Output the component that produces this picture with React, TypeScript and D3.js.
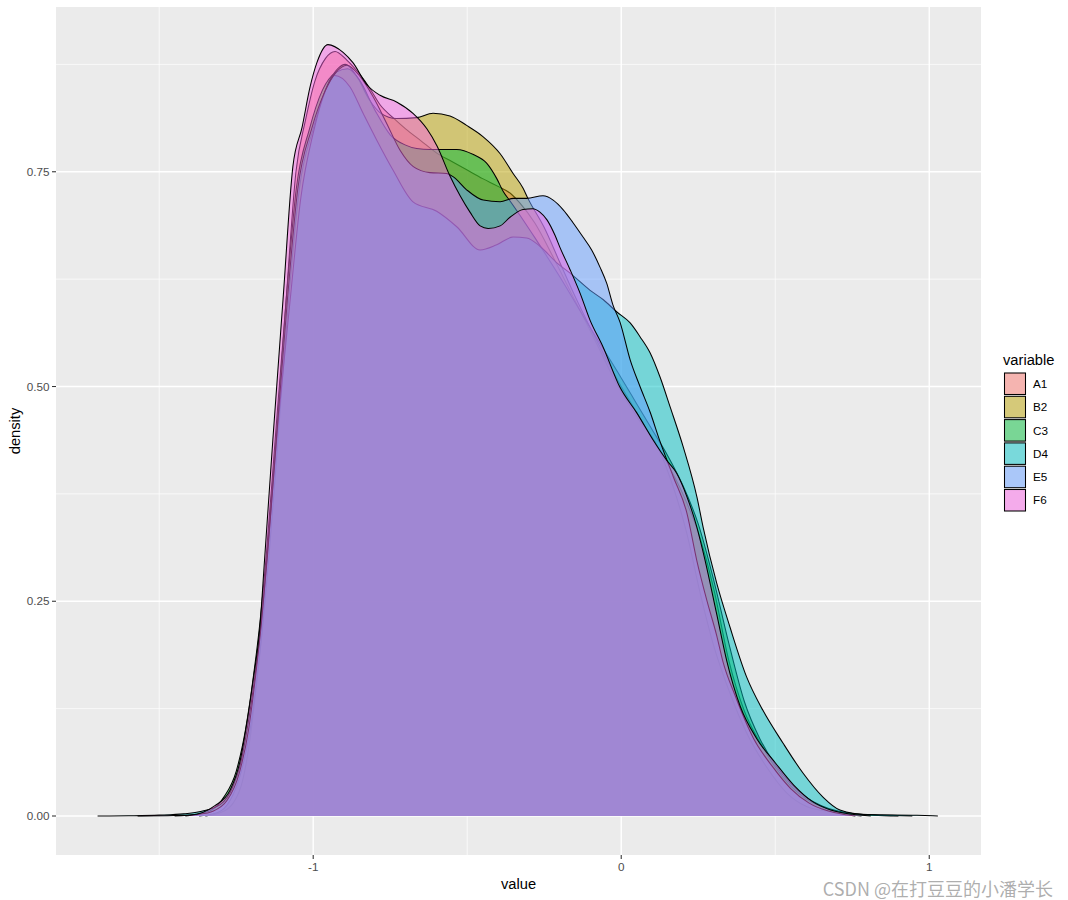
import React from "react";
import * as d3 from "d3";

type P = [number, number];

const categories = ["A1", "B2", "C3", "D4", "E5", "F6"];
const fills = ["#F8766D", "#B79F00", "#00BA38", "#00BFC4", "#619CFF", "#F564E3"];
const xTicks = [-1, 0, 1];
const xTickLabels = ["-1", "0", "1"];
const xMinor = [-1.5, -0.5, 0.5];
const yTicks = [0, 0.25, 0.5, 0.75];
const yTickLabels = ["0.00", "0.25", "0.50", "0.75"];
const yMinor = [0.125, 0.375, 0.625, 0.875];

const A1: P[] = [
  [-1.35, 0], [-1.3, 0.004], [-1.26, 0.015], [-1.23, 0.04], [-1.205, 0.09], [-1.185, 0.15],
  [-1.165, 0.22], [-1.15, 0.3], [-1.12, 0.44], [-1.088, 0.6], [-1.056, 0.75], [-1.025, 0.81],
  [-0.995, 0.855], [-0.96, 0.882], [-0.929, 0.89], [-0.891, 0.88], [-0.848, 0.863], [-0.816, 0.847],
  [-0.783, 0.828], [-0.741, 0.813], [-0.7, 0.8], [-0.65, 0.786], [-0.6, 0.772], [-0.55, 0.762],
  [-0.5, 0.752], [-0.45, 0.742], [-0.4, 0.733], [-0.36, 0.725], [-0.33, 0.714], [-0.28, 0.69],
  [-0.22, 0.65], [-0.15, 0.6], [-0.08, 0.55], [-0.01, 0.5], [0.06, 0.46], [0.115, 0.432],
  [0.169, 0.383], [0.213, 0.329], [0.256, 0.26], [0.298, 0.201], [0.353, 0.143], [0.407, 0.097],
  [0.472, 0.057], [0.537, 0.027], [0.602, 0.011], [0.678, 0.005], [0.78, 0],
];

const B2: P[] = [
  [-1.37, 0], [-1.31, 0.004], [-1.27, 0.018], [-1.235, 0.05], [-1.205, 0.1], [-1.183, 0.16],
  [-1.163, 0.225], [-1.143, 0.305], [-1.113, 0.445], [-1.08, 0.6], [-1.045, 0.73], [-1.0, 0.8],
  [-0.955, 0.85], [-0.92, 0.87], [-0.896, 0.875], [-0.86, 0.862], [-0.82, 0.835], [-0.78, 0.818],
  [-0.73, 0.812], [-0.664, 0.813], [-0.611, 0.818], [-0.556, 0.815], [-0.502, 0.804], [-0.449, 0.791],
  [-0.393, 0.771], [-0.351, 0.748], [-0.319, 0.731], [-0.303, 0.719], [-0.25, 0.685], [-0.2, 0.645],
  [-0.15, 0.605], [-0.1, 0.568], [-0.05, 0.533], [0, 0.5], [0.05, 0.47], [0.1, 0.44], [0.15, 0.41],
  [0.2, 0.375], [0.25, 0.33], [0.3, 0.265], [0.35, 0.18], [0.4, 0.122], [0.45, 0.086], [0.5, 0.057],
  [0.55, 0.035], [0.6, 0.02], [0.65, 0.011], [0.7, 0.005], [0.75, 0.0025], [0.85, 0.001], [0.945, 0],
];

const C3: P[] = [
  [-1.45, 0], [-1.38, 0.002], [-1.33, 0.007], [-1.29, 0.022], [-1.25, 0.052], [-1.22, 0.1],
  [-1.195, 0.16], [-1.173, 0.225], [-1.152, 0.305], [-1.122, 0.445], [-1.088, 0.6], [-1.055, 0.73],
  [-1.012, 0.8], [-0.97, 0.845], [-0.925, 0.866], [-0.888, 0.87], [-0.85, 0.857], [-0.8, 0.822],
  [-0.75, 0.793], [-0.7, 0.781], [-0.664, 0.777], [-0.62, 0.776], [-0.588, 0.776], [-0.534, 0.776],
  [-0.48, 0.77], [-0.437, 0.76], [-0.404, 0.742], [-0.383, 0.727], [-0.361, 0.716], [-0.33, 0.7],
  [-0.28, 0.673], [-0.2, 0.628], [-0.1, 0.568], [0, 0.51], [0.05, 0.48], [0.1, 0.45], [0.15, 0.42],
  [0.2, 0.385], [0.25, 0.34], [0.3, 0.275], [0.35, 0.2], [0.4, 0.133], [0.45, 0.09], [0.5, 0.06],
  [0.55, 0.038], [0.6, 0.022], [0.65, 0.012], [0.7, 0.006], [0.75, 0.003], [0.82, 0.001], [0.9, 0],
];

const D4: P[] = [
  [-1.7, 0], [-1.6, 0.0003], [-1.5, 0.001], [-1.42, 0.0025], [-1.37, 0.005], [-1.303, 0.013],
  [-1.26, 0.035], [-1.238, 0.058], [-1.215, 0.1], [-1.192, 0.155], [-1.17, 0.22], [-1.15, 0.3],
  [-1.118, 0.44], [-1.075, 0.6], [-1.04, 0.72], [-1.0, 0.795], [-0.965, 0.84], [-0.93, 0.862],
  [-0.881, 0.849], [-0.838, 0.818], [-0.794, 0.787], [-0.741, 0.752], [-0.676, 0.715], [-0.599, 0.704],
  [-0.534, 0.686], [-0.458, 0.659], [-0.404, 0.665], [-0.351, 0.674], [-0.307, 0.673], [-0.263, 0.663],
  [-0.209, 0.644], [-0.166, 0.632], [-0.101, 0.612], [-0.058, 0.601], [-0.015, 0.587], [0.029, 0.574],
  [0.061, 0.558], [0.094, 0.539], [0.126, 0.511], [0.159, 0.476], [0.201, 0.43], [0.246, 0.371],
  [0.266, 0.336], [0.31, 0.271], [0.353, 0.22], [0.407, 0.162], [0.46, 0.123], [0.525, 0.085],
  [0.59, 0.05], [0.655, 0.022], [0.71, 0.007], [0.798, 0.0015], [0.96, 0.0008], [1.028, 0],
];

const E5: P[] = [
  [-1.415, 0], [-1.37, 0.002], [-1.33, 0.005], [-1.28, 0.018], [-1.24, 0.05], [-1.21, 0.1],
  [-1.188, 0.16], [-1.168, 0.225], [-1.148, 0.305], [-1.118, 0.445], [-1.084, 0.6], [-1.05, 0.73],
  [-1.005, 0.8], [-0.96, 0.845], [-0.925, 0.866], [-0.891, 0.874], [-0.848, 0.861], [-0.805, 0.837],
  [-0.761, 0.806], [-0.718, 0.775], [-0.675, 0.756], [-0.621, 0.749], [-0.567, 0.748], [-0.545, 0.744],
  [-0.502, 0.729], [-0.448, 0.717], [-0.393, 0.715], [-0.35, 0.719], [-0.307, 0.719], [-0.254, 0.722],
  [-0.221, 0.717], [-0.189, 0.706], [-0.157, 0.691], [-0.124, 0.674], [-0.096, 0.659], [-0.069, 0.639],
  [-0.047, 0.62], [-0.027, 0.595], [-0.004, 0.575], [0.029, 0.531], [0.061, 0.5], [0.094, 0.47],
  [0.125, 0.437], [0.169, 0.395], [0.213, 0.353], [0.245, 0.298], [0.278, 0.251], [0.31, 0.21],
  [0.33, 0.18], [0.37, 0.14], [0.43, 0.09], [0.49, 0.058], [0.55, 0.032], [0.61, 0.015],
  [0.67, 0.006], [0.72, 0.002], [0.76, 0],
];

const F6: P[] = [
  [-1.57, 0], [-1.45, 0.0005], [-1.4, 0.001], [-1.319, 0.012], [-1.27, 0.03], [-1.238, 0.063],
  [-1.215, 0.109], [-1.195, 0.158], [-1.173, 0.22], [-1.158, 0.298], [-1.131, 0.438], [-1.098, 0.601],
  [-1.066, 0.756], [-1.036, 0.802], [-1.01, 0.849], [-0.988, 0.877], [-0.952, 0.898], [-0.903, 0.889],
  [-0.871, 0.877], [-0.825, 0.851], [-0.783, 0.839], [-0.728, 0.831], [-0.676, 0.818], [-0.631, 0.8],
  [-0.598, 0.78], [-0.556, 0.745], [-0.523, 0.722], [-0.491, 0.703], [-0.458, 0.687], [-0.432, 0.684],
  [-0.393, 0.687], [-0.361, 0.697], [-0.319, 0.706], [-0.287, 0.707], [-0.264, 0.703], [-0.241, 0.694],
  [-0.215, 0.676], [-0.199, 0.662], [-0.166, 0.636], [-0.134, 0.609], [-0.101, 0.577], [-0.059, 0.546],
  [-0.004, 0.499], [0.051, 0.469], [0.103, 0.438], [0.148, 0.414], [0.18, 0.399], [0.213, 0.372],
  [0.245, 0.337], [0.272, 0.298], [0.31, 0.235], [0.343, 0.18], [0.386, 0.128], [0.44, 0.09],
  [0.5, 0.062], [0.56, 0.036], [0.62, 0.017], [0.68, 0.007], [0.75, 0.002], [0.81, 0],
];

const seriesData: P[][] = [A1, B2, C3, D4, E5, F6];

const FONT = "'Liberation Sans', Arial, Helvetica, sans-serif";

export default function App() {
  const W = 1068;
  const H = 900;
  const pl = 56, pr = 981, pt = 7, pb = 855;

  const x = d3.scaleLinear().domain([-1.835, 1.168]).range([pl, pr]);
  const y = d3.scaleLinear().domain([-0.0454, 0.9418]).range([pb, pt]);

  const area = d3
    .area<P>()
    .x((d) => x(d[0]))
    .y0(y(0))
    .y1((d) => y(d[1]))
    .curve(d3.curveMonotoneX);
  const line = d3
    .line<P>()
    .x((d) => x(d[0]))
    .y((d) => y(d[1]))
    .curve(d3.curveMonotoneX);

  const legendX = 1004.5;
  const legendTop = 373;
  const keyStep = 23.3;
  const keyW = 21;
  const keyH = 21.5;

  return (
    <svg
      width={W}
      height={H}
      style={{ position: "absolute", left: 0, top: 0, background: "#fff" }}
      fontFamily={FONT}
    >
      <rect x={0} y={0} width={W} height={H} fill="#fff" />
      <rect x={pl} y={pt} width={pr - pl} height={pb - pt} fill="#EBEBEB" />
      {xMinor.map((v) => (
        <line key={"xm" + v} x1={x(v)} x2={x(v)} y1={pt} y2={pb} stroke="#fff" strokeWidth={0.7} />
      ))}
      {yMinor.map((v) => (
        <line key={"ym" + v} x1={pl} x2={pr} y1={y(v)} y2={y(v)} stroke="#fff" strokeWidth={0.7} />
      ))}
      {xTicks.map((v) => (
        <line key={"xM" + v} x1={x(v)} x2={x(v)} y1={pt} y2={pb} stroke="#fff" strokeWidth={1.4} />
      ))}
      {yTicks.map((v) => (
        <line key={"yM" + v} x1={pl} x2={pr} y1={y(v)} y2={y(v)} stroke="#fff" strokeWidth={1.4} />
      ))}

      {seriesData.map((s, i) => (
        <g key={categories[i]}>
          <path d={area(s) || ""} fill={fills[i]} fillOpacity={0.5} stroke="none" />
          <path d={line(s) || ""} fill="none" stroke="#000" strokeWidth={1.05} strokeLinejoin="round" />
        </g>
      ))}

      {xTicks.map((v, i) => (
        <g key={"xt" + v}>
          <line x1={x(v)} x2={x(v)} y1={pb} y2={pb + 4} stroke="#333" strokeWidth={1.07} />
          <text x={x(v)} y={pb + 16} textAnchor="middle" fontSize={11.7} fill="#4D4D4D">
            {xTickLabels[i]}
          </text>
        </g>
      ))}
      {yTicks.map((v, i) => (
        <g key={"yt" + v}>
          <line x1={pl - 4} x2={pl} y1={y(v)} y2={y(v)} stroke="#333" strokeWidth={1.07} />
          <text x={pl - 6.5} y={y(v) + 4.2} textAnchor="end" fontSize={11.7} fill="#4D4D4D">
            {yTickLabels[i]}
          </text>
        </g>
      ))}

      <text x={(pl + pr) / 2} y={889} textAnchor="middle" fontSize={14.7} fill="#000">
        value
      </text>
      <text
        transform={`translate(20,${(pt + pb) / 2}) rotate(-90)`}
        textAnchor="middle"
        fontSize={14.7}
        fill="#000"
      >
        density
      </text>

      <text x={1003} y={365} fontSize={14.7} fill="#000">
        variable
      </text>
      {categories.map((c, i) => {
        const ky = legendTop + i * keyStep;
        return (
          <g key={"lg" + c}>
            <rect x={legendX} y={ky} width={keyW} height={keyH} fill="#F2F2F2" />
            <rect
              x={legendX}
              y={ky}
              width={keyW}
              height={keyH}
              fill={fills[i]}
              fillOpacity={0.5}
              stroke="#000"
              strokeWidth={1.05}
            />
            <text x={1033} y={ky + keyH / 2 + 4.2} fontSize={11.7} fill="#000">
              {c}
            </text>
          </g>
        );
      })}

      <text
        x={1053}
        y={896}
        textAnchor="end"
        fontSize={18}
        fill="#A0A0A0"
        fillOpacity={0.85}
        fontFamily="'Noto Sans CJK SC', 'Noto Sans', sans-serif"
      >
        CSDN @在打豆豆的小潘学长
      </text>
    </svg>
  );
}
